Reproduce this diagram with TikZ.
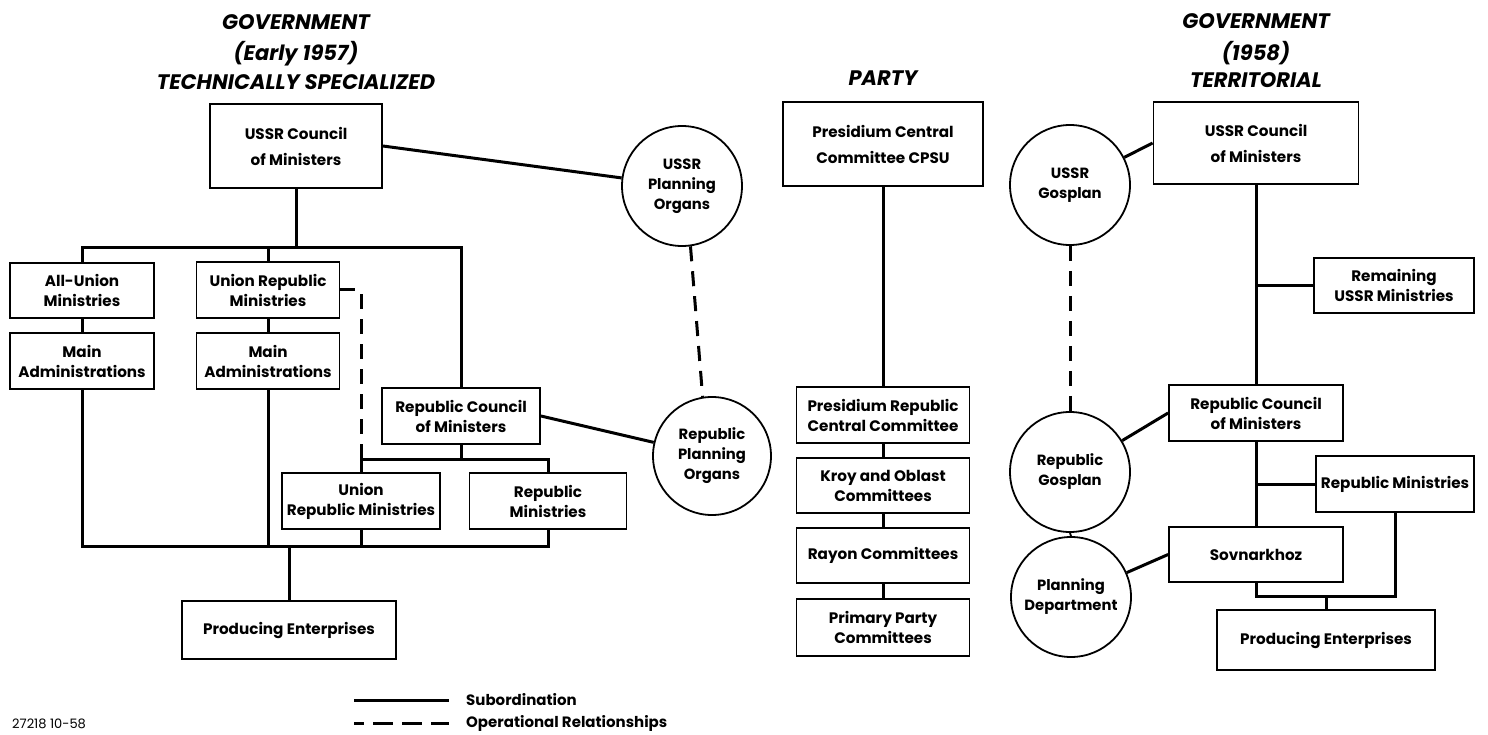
\documentclass[tikz,border=0pt]{standalone}
\usepackage{fontspec}
\setmainfont{Poppins}
\newcommand{\bxfont}{\fontsize{15.2}{20}\selectfont\bfseries}
\newcommand{\bxfontB}{\fontsize{15.2}{26}\selectfont\bfseries}
\newcommand{\crfont}{\fontsize{14.8}{20}\selectfont\bfseries}
\newcommand{\ttlfont}{\fontsize{21}{22}\selectfont\bfseries\itshape}
\newcommand{\lgfont}{\fontsize{15}{16}\selectfont\bfseries}
\begin{document}
\begin{tikzpicture}[x=1pt,y=-1pt,
  bx/.style={draw,line width=1.8pt,inner sep=0pt,align=center,font=\bxfont},
  bxb/.style={bx,font=\bxfontB},
  circ/.style={draw,circle,line width=1.8pt,inner sep=0pt,align=center,font=\crfont,minimum size=120pt},
  ln/.style={line width=3pt},
  dsh/.style={line width=3pt,dash pattern=on 15pt off 10pt},
  ttl/.style={font=\ttlfont,inner sep=0pt}]
\useasboundingbox (0,0) rectangle (1488,735);
% ---------- titles
\node[ttl] (t1a) at (296,22) {GOVERNMENT};
\node[ttl] (t1b) at (296,54) {(Early 1957)};
\node[ttl] (t1c) at (296,82) {TECHNICALLY SPECIALIZED};
\node[ttl] (t2) at (883,78) {PARTY};
\node[ttl] (t3a) at (1256,21) {GOVERNMENT};
\node[ttl] (t3b) at (1256,53) {(1958)};
\node[ttl] (t3c) at (1256,80) {TERRITORIAL};
% ---------- left: technically specialized
\node[bxb,minimum width=172pt,minimum height=84pt] (uscL) at (296,146) {USSR Council\\of Ministers};
\node[bx,minimum width=144pt,minimum height=55pt] (allU) at (82,290.5) {All-Union\\Ministries};
\node[bx,minimum width=144pt,minimum height=56pt] (mainA1) at (82,361) {Main\\Administrations};
\node[bx,minimum width=143pt,minimum height=56pt] (unRep) at (268,290) {Union Republic\\Ministries};
\node[bx,minimum width=143pt,minimum height=56pt] (mainA2) at (268,361) {Main\\Administrations};
\node[bx,minimum width=158pt,minimum height=56pt] (repCL) at (461,416) {Republic Council\\of Ministers};
\node[bx,minimum width=158pt,minimum height=56pt] (unRepL) at (361,501) {Union\\Republic Ministries};
\node[bx,minimum width=157pt,minimum height=56pt] (repMinL) at (548,501) {Republic\\Ministries};
\node[bx,minimum width=214pt,minimum height=58pt] (prodL) at (289,630) {Producing Enterprises};
\node[circ] (upo) at (682,186) {USSR\\Planning\\Organs};
\node[circ,minimum size=118pt] (rpo) at (712,456) {Republic\\Planning\\Organs};
\coordinate (tb) at (0,248);
\coordinate (mb) at (0,459);
\coordinate (bb) at (0,546);
\draw[ln] (allU.north) -- (allU.north |- tb) -- (repCL.north |- tb) -- (repCL.north);
\draw[ln] (uscL.south) -- (uscL.south |- tb);
\draw[ln] (unRep.north) -- (unRep.north |- tb);
\draw[ln] (allU.south) -- (mainA1.north);
\draw[ln] (unRep.south) -- (mainA2.north);
\draw[ln] (mainA1.south) -- (mainA1.south |- bb) -- (repMinL.south |- bb) -- (repMinL.south);
\draw[ln] (mainA2.south) -- (mainA2.south |- bb);
\draw[ln] (unRepL.south) -- (unRepL.south |- bb);
\draw[ln] (prodL.north) -- (prodL.north |- bb);
\draw[ln] (repCL.south) -- (repCL.south |- mb);
\draw[ln] (unRepL.north) -- (unRepL.north |- mb) -- (repMinL.north |- mb) -- (repMinL.north);
\draw[dsh] (unRep.east) -| (unRepL.north |- mb);
\draw[ln] (uscL.east) -- (upo);
\draw[ln] (repCL.east) -- (rpo);
\draw[dsh] (upo.-82) -- (rpo.99);
% ---------- party
\node[bxb,minimum width=200pt,minimum height=84pt] (pcc) at (883,144) {Presidium Central\\Committee CPSU};
\node[bx,minimum width=173pt,minimum height=56pt] (prc) at (883,415) {Presidium Republic\\Central Committee};
\node[bx,minimum width=173pt,minimum height=55pt] (kroy) at (883,485.5) {Kroy and Oblast\\Committees};
\node[bx,minimum width=173pt,minimum height=55pt] (rayon) at (883,555.5) {Rayon Committees};
\node[bx,minimum width=173pt,minimum height=57pt] (prim) at (883,627.5) {Primary Party\\Committees};
\draw[ln] (pcc.south) -- (prc.north);
\draw[ln] (prc.south) -- (kroy.north);
\draw[ln] (kroy.south) -- (rayon.north);
\draw[ln] (rayon.south) -- (prim.north);
% ---------- right: territorial
\node[circ] (gos) at (1070,185) {USSR\\Gosplan};
\node[circ] (rgos) at (1070,472) {Republic\\Gosplan};
\node[circ] (pdep) at (1071,597) {Planning\\Department};
\node[bxb,minimum width=205pt,minimum height=82pt] (uscR) at (1256,143) {USSR Council\\of Ministers};
\node[bx,minimum width=160pt,minimum height=55pt] (remR) at (1394,285.5) {Remaining\\USSR Ministries};
\node[bx,minimum width=174pt,minimum height=56pt] (repCR) at (1256,413) {Republic Council\\of Ministers};
\node[bx,minimum width=158pt,minimum height=56pt] (repMinR) at (1395,484) {Republic Ministries};
\node[bx,minimum width=174pt,minimum height=55pt] (sov) at (1256,554.5) {Sovnarkhoz};
\node[bx,minimum width=218pt,minimum height=60pt] (prodR) at (1326,640) {Producing Enterprises};
\coordinate (rb) at (0,596);
\draw[ln] (uscR.south) -- (repCR.north);
\draw[ln] (remR.west) -- (remR.west -| uscR.south);
\draw[ln] (repCR.south) -- (sov.north);
\draw[ln] (repMinR.west) -- (repMinR.west -| repCR.south);
\draw[ln] (sov.south) -- (sov.south |- rb) -- (repMinR.south |- rb) -- (repMinR.south);
\draw[ln] (prodR.north) -- (prodR.north |- rb);
\draw[ln] (gos) -- (uscR.west);
\draw[ln] (rgos) -- (repCR.west);
\draw[ln] (pdep) -- (sov.west);
\draw[dsh] (gos.south) -- (rgos.north);
\draw[line width=1.8pt] (rgos.south) -- (pdep.north);
% ---------- legend
\coordinate (la1) at (354,700);
\coordinate (la2) at (449,700);
\coordinate (lb1) at (354,723);
\coordinate (lb2) at (449,723);
\draw[ln] (la1) -- (la2);
\draw[line width=3pt,dash pattern=on 20pt off 9pt,dash phase=10pt] (lb1) -- (lb2);
\node[anchor=west,font=\lgfont,inner sep=0pt] (lt1) at (466,700) {Subordination};
\node[anchor=west,font=\lgfont,inner sep=0pt] (lt2) at (466,723) {Operational Relationships};
\node[anchor=south west,font=\fontsize{13}{15}\selectfont,inner sep=0pt] (code) at (12,729) {27218 10-58};
\end{tikzpicture}
\end{document}
